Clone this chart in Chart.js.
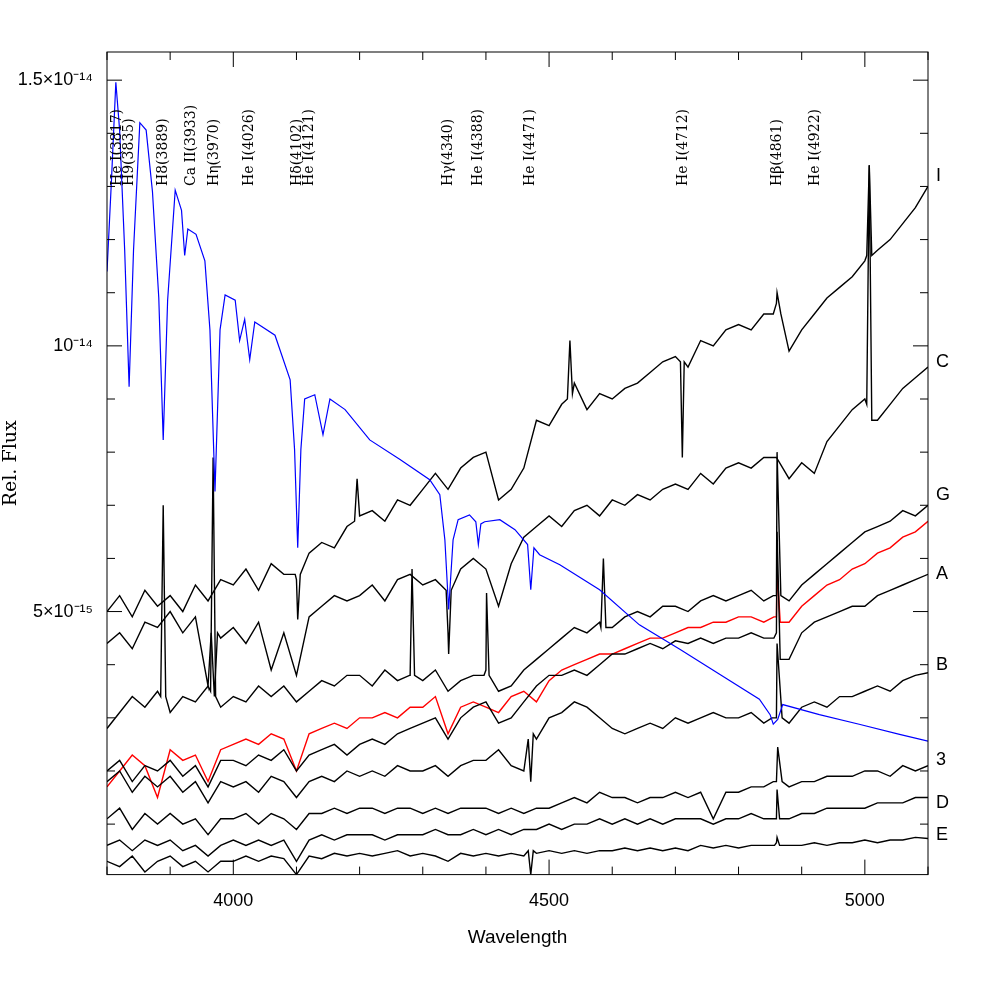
<!DOCTYPE html>
<html><head><meta charset="utf-8">
<script src="https://cdn.jsdelivr.net/npm/chart.js@4"></script>
<style>html,body{margin:0;padding:0;background:#fff}#wrap{width:981px;height:981px}</style>
</head><body><div id="wrap"><canvas id="c" width="981" height="981"></canvas></div>
<script>
// wavelength grid (Å) for the black/red spectra, 20 Å step
const wl = [];
for (let w = 3800; w <= 5100; w += 20) wl.push(w);
// fluxes in units of 1e-15
const specI = [5.0,5.3,4.9,5.4,5.1,5.3,5.0,5.5,5.2,5.6,5.5,5.8,5.4,5.9,5.7,5.6,6.1,6.3,6.2,6.6,6.8,6.9,6.7,7.1,7.0,7.3,7.6,7.3,7.7,7.9,8.0,7.1,7.3,7.7,8.6,8.5,8.9,9.3,8.8,9.1,9.0,9.2,9.3,9.5,9.7,9.8,9.6,10.1,10.0,10.3,10.4,10.3,10.6,10.8,9.9,10.3,10.6,10.9,11.1,11.3,11.6,11.8,12.0,12.3,12.6,13.0];
const specC = [4.4,4.6,4.3,4.8,4.7,5.0,4.6,4.9,3.6,4.5,4.7,4.4,4.8,3.9,4.6,3.8,4.9,5.1,5.3,5.2,5.3,5.5,5.2,5.6,5.7,5.5,5.6,4.6,5.8,6.0,5.8,5.1,5.9,6.4,6.6,6.8,6.6,6.9,7.0,6.8,7.1,7.0,7.2,7.1,7.3,7.4,7.3,7.6,7.4,7.7,7.8,7.7,7.9,7.9,7.5,7.8,7.6,8.2,8.5,8.8,9.0,8.6,8.9,9.2,9.4,9.6];
const specG = [2.8,3.1,3.4,3.2,3.5,3.1,3.4,3.3,3.6,3.2,3.4,3.3,3.6,3.4,3.6,3.3,3.5,3.7,3.6,3.8,3.8,3.6,3.9,3.7,3.8,3.7,3.9,3.5,3.7,3.8,3.9,3.5,3.6,3.9,4.1,4.3,4.5,4.7,4.6,4.8,4.7,4.9,5.0,4.9,5.1,5.1,5.0,5.2,5.3,5.2,5.3,5.4,5.2,5.3,5.2,5.5,5.7,5.9,6.1,6.3,6.5,6.6,6.7,6.9,6.8,7.0];
const specRed = [1.7,2.0,2.3,2.1,1.5,2.4,2.2,2.3,1.8,2.4,2.5,2.6,2.5,2.7,2.6,2.0,2.7,2.8,2.9,2.8,3.0,3.0,3.1,3.0,3.2,3.2,3.4,2.7,3.2,3.3,3.2,3.1,3.4,3.5,3.3,3.7,3.9,4.0,4.1,4.2,4.2,4.3,4.4,4.5,4.5,4.6,4.7,4.7,4.8,4.8,4.9,4.9,4.8,4.9,4.8,5.1,5.3,5.5,5.6,5.8,5.9,6.1,6.2,6.4,6.5,6.7];
const specA = [2.0,2.2,1.8,2.1,2.0,2.2,1.9,2.1,1.7,2.2,2.2,2.1,2.3,2.2,2.4,2.0,2.3,2.4,2.5,2.3,2.5,2.6,2.5,2.7,2.8,2.9,3.0,2.6,3.0,3.2,3.3,2.9,3.0,3.3,3.6,3.8,3.8,3.9,3.8,4.0,4.2,4.2,4.3,4.4,4.3,4.45,4.4,4.5,4.4,4.5,4.5,4.6,4.5,4.6,4.1,4.6,4.8,4.9,5.0,5.1,5.1,5.3,5.4,5.5,5.6,5.7];
const specB = [1.8,2.0,1.6,1.9,1.7,1.9,1.6,1.8,1.4,1.8,1.7,1.8,1.6,1.9,1.8,1.5,1.8,1.9,1.8,2.0,1.9,2.0,1.9,2.1,2.0,2.0,2.1,1.9,2.1,2.2,2.2,2.4,2.1,2.0,2.6,3.0,3.1,3.3,3.2,3.0,2.8,2.7,2.8,2.9,2.8,3.0,2.9,3.0,3.1,3.0,3.0,3.1,2.9,3.0,2.9,3.2,3.3,3.2,3.4,3.4,3.5,3.6,3.5,3.7,3.8,3.85];
const spec3 = [1.1,1.3,0.9,1.2,1.0,1.2,1.0,1.1,0.8,1.1,1.1,1.2,1.0,1.2,1.1,0.9,1.2,1.2,1.3,1.2,1.3,1.3,1.2,1.3,1.3,1.2,1.3,1.2,1.3,1.3,1.3,1.2,1.3,1.2,1.3,1.3,1.4,1.5,1.4,1.6,1.5,1.5,1.4,1.5,1.5,1.6,1.5,1.6,1.1,1.6,1.6,1.7,1.7,1.8,1.7,1.8,1.8,1.9,1.9,1.9,2.0,2.0,1.9,2.1,2.0,2.1];
const specD = [0.6,0.7,0.5,0.7,0.6,0.7,0.5,0.6,0.4,0.6,0.7,0.6,0.7,0.6,0.7,0.3,0.7,0.8,0.7,0.8,0.8,0.8,0.7,0.8,0.8,0.8,0.9,0.8,0.8,0.9,0.8,0.9,0.8,0.9,0.9,1.0,0.9,1.0,1.0,1.1,1.0,1.1,1.0,1.1,1.0,1.1,1.1,1.1,1.0,1.1,1.1,1.2,1.1,1.1,1.1,1.2,1.2,1.3,1.3,1.3,1.3,1.4,1.4,1.4,1.5,1.5];
const specE = [0.3,0.2,0.4,0.1,0.3,0.4,0.2,0.3,0.1,0.3,0.3,0.4,0.3,0.4,0.35,0.05,0.4,0.35,0.45,0.4,0.45,0.4,0.45,0.5,0.4,0.45,0.4,0.3,0.45,0.4,0.45,0.4,0.45,0.4,0.45,0.5,0.45,0.5,0.45,0.5,0.5,0.55,0.5,0.55,0.5,0.55,0.5,0.6,0.55,0.6,0.55,0.6,0.6,0.65,0.6,0.6,0.65,0.6,0.65,0.65,0.7,0.65,0.7,0.7,0.75,0.73];
// narrow line features [wavelength, flux]
const featI = [[4098,5.7],[4102,4.85],[4106,5.7],[4192,6.7],[4196,7.5],[4200,6.8],[4529,9.0],[4533,10.1],[4537,9.1],[4708,9.7],[4711,7.9],[4714,9.7],[4855,10.6],[4861,11.0],[4867,10.6],[5003,11.7],[5007,13.4],[5011,11.7]];
const featC = [[3965,4.6],[3970,3.4],[3975,4.6],[4337,5.4],[4341,4.2],[4345,5.4],[5003,8.9],[5007,13.4],[5011,8.6]];
const featG = [[3885,3.4],[3889,7.0],[3893,3.4],[3964,3.5],[3968,7.9],[3972,3.4],[4279,3.8],[4283,5.8],[4287,3.8],[4397,3.8],[4401,5.35],[4405,3.8],[4582,4.7],[4586,6.0],[4590,4.7],[4855,5.3],[4861,8.0],[4867,5.3]];
const featRed = [[4856,4.9],[4861,5.8],[4866,4.8]];
const featA = [[4856,4.5],[4861,6.5],[4866,4.1]];
const featB = [[4467,2.6],[4471,1.8],[4475,2.7],[4853,3.0],[4861,4.4],[4869,3.0]];
const feat3 = [[4855,1.8],[4862,2.45],[4869,1.8]];
const featD = [[4857,1.1],[4861,1.65],[4865,1.1]];
const featE = [[4467,0.5],[4471,0.05],[4475,0.5],[4857,0.6],[4861,0.75],[4865,0.6]];
// blue model spectrum
const blueWl = [3800,3807,3814,3820,3828,3835,3842,3852,3862,3872,3882,3889,3896,3908,3918,3923,3928,3941,3955,3963,3971,3979,3987,4003,4010,4018,4026,4034,4066,4090,4097,4102,4107,4113,4129,4142,4153,4177,4216,4264,4311,4327,4335,4341,4348,4356,4374,4384,4388,4392,4398,4422,4446,4466,4471,4476,4485,4517,4580,4643,4707,4770,4833,4850,4855,4862,4870,4928,4991,5055,5100];
const blueFlux = [11.4,13.1,14.96,14.06,11.8,9.23,11.8,14.2,14.06,12.9,10.9,8.23,10.86,12.93,12.55,11.7,12.2,12.1,11.6,10.3,7.26,10.3,10.96,10.86,10.1,10.5,9.74,10.45,10.2,9.36,8.05,6.2,8.05,9.0,9.08,8.33,9.0,8.8,8.23,7.86,7.48,7.2,6.35,5.04,6.35,6.73,6.82,6.69,6.26,6.65,6.69,6.73,6.54,6.26,5.41,6.2,6.07,5.88,5.41,4.75,4.29,3.82,3.35,3.06,2.88,2.97,3.25,3.06,2.88,2.69,2.56];
const lineNames = ["He I(3817)","H9(3835)","H8(3889)","Ca II(3933)","Hη(3970)","He I(4026)","Hδ(4102)","He I(4121)","Hγ(4340)","He I(4388)","He I(4471)","He I(4712)","Hβ(4861)","He I(4922)"];
const lineWl = [3817,3835,3889,3933,3970,4026,4102,4121,4340,4388,4471,4712,4861,4922];
const seriesNames = ["I","C","G","A","B","3","D","E"];
const seriesLabelFlux = [13.2,9.7,7.2,5.7,4.0,2.2,1.4,0.8];
const yTicks = [5,10,15];
const yTickLabels = ["5×10⁻¹⁵","10⁻¹⁴","1.5×10⁻¹⁴"];
const xTicks = [4000,4500,5000];

function build(vals, feat) {
  const pts = wl.map((w,i)=>({x:w,y:vals[i]})).concat(feat.map(f=>({x:f[0],y:f[1]})));
  pts.sort((a,b)=>a.x-b.x);
  return pts;
}
const mk = (data,color,w)=>({data,borderColor:color,borderWidth:w||1.4,pointRadius:0,tension:0,fill:false});
const datasets = [
  mk(blueWl.map((w,i)=>({x:w,y:blueFlux[i]})),'#0000ff',1.2),
  mk(build(specI,featI),'#000'),
  mk(build(specC,featC),'#000'),
  mk(build(specG,featG),'#000'),
  mk(build(specA,featA),'#000'),
  mk(build(specB,featB),'#000'),
  mk(build(spec3,feat3),'#000'),
  mk(build(specD,featD),'#000'),
  mk(build(specE,featE),'#000'),
  mk(build(specRed,featRed),'#ff0000'),
];

const deco = {
  id:'deco',
  afterDraw(ch){
    const c=ch.ctx, a=ch.chartArea, xs=ch.scales.x, ys=ch.scales.y;
    c.save();
    c.strokeStyle='#000'; c.lineWidth=1;
    c.strokeRect(a.left,a.top,a.right-a.left,a.bottom-a.top);
    for(let w=3800;w<=5100;w+=100){
      const px=xs.getPixelForValue(w), L=(w%500===0)?15:8;
      c.beginPath(); c.moveTo(px,a.bottom); c.lineTo(px,a.bottom-L);
      c.moveTo(px,a.top); c.lineTo(px,a.top+L); c.stroke();
    }
    for(let v=1;v<=15;v++){
      const py=ys.getPixelForValue(v), L=(v%5===0)?15:8;
      c.beginPath(); c.moveTo(a.left,py); c.lineTo(a.left+L,py);
      c.moveTo(a.right,py); c.lineTo(a.right-L,py); c.stroke();
    }
    c.fillStyle='#000';
    c.font='14px "DejaVu Serif", serif';
    c.textBaseline='middle'; c.textAlign='left';
    lineWl.forEach((w,i)=>{
      c.save(); c.translate(xs.getPixelForValue(w),186); c.rotate(-Math.PI/2);
      c.fillText(lineNames[i],0,0); c.restore();
    });
    c.font='18px "Liberation Sans", sans-serif';
    seriesNames.forEach((n,i)=>c.fillText(n,a.right+8,ys.getPixelForValue(seriesLabelFlux[i])));
    c.restore();
  }
};

new Chart(document.getElementById('c'),{
  type:'line',
  data:{datasets},
  options:{
    responsive:false,animation:false,
    layout:{padding:{top:52,right:53,left:0,bottom:28}},
    plugins:{legend:{display:false},tooltip:{enabled:false}},
    scales:{
      x:{type:'linear',min:3800,max:5100,
        afterBuildTicks:s=>{s.ticks=xTicks.map(v=>({value:v}));},
        grid:{display:false},border:{display:false},
        ticks:{color:'#000',font:{size:18,family:'Liberation Sans'},padding:8,maxRotation:0,callback:v=>String(v)},
        title:{display:true,text:'Wavelength',color:'#000',font:{size:19,family:'Liberation Sans'},padding:{top:6}}
      },
      y:{type:'linear',min:0.05,max:15.53,
        afterBuildTicks:s=>{s.ticks=yTicks.map(v=>({value:v}));},
        afterFit:s=>{s.width=107;},
        grid:{display:false},border:{display:false},
        ticks:{color:'#000',font:{size:18,family:'Liberation Sans'},padding:6,
          callback:v=>yTickLabels[yTicks.indexOf(v)]},
        title:{display:true,text:'Rel. Flux',color:'#000',font:{size:19,family:'DejaVu Serif'},padding:0}
      }
    }
  },
  plugins:[deco]
});
</script></body></html>
